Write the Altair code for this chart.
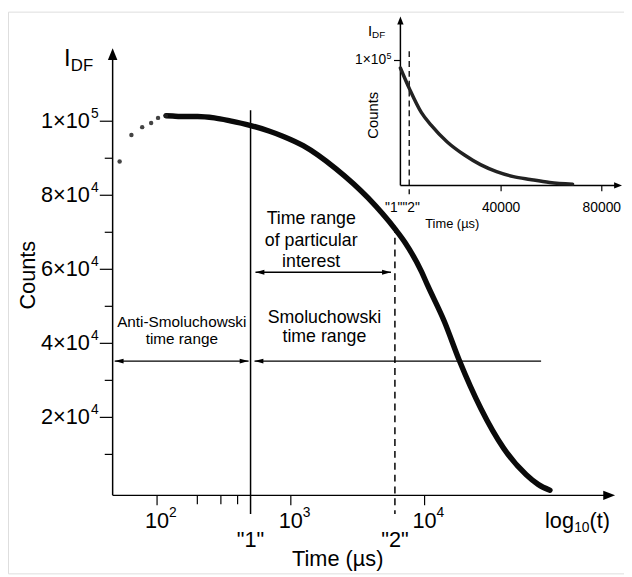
import altair as alt
import pandas as pd

FONT = "Liberation Sans"

# ---------------- data ----------------
sparse_time = [52.5, 64.3, 77.4, 90.3, 101.7, 116.5]
sparse_counts = [89100, 96300, 98400, 99500, 100900, 101500]

curve_time = [116.5, 131, 150, 201, 268, 352, 494, 694, 880, 1237, 2166, 3797,
              6007, 7118, 9502, 10520, 14050, 18130, 26340, 38940, 57540, 70590, 86510]
curve_counts = [101500, 101400, 101300, 101300, 100900, 100100, 98900, 97300, 95900,
                93400, 87200, 79200, 70900, 67300, 59300, 55700, 45900, 35500, 22400,
                11700, 4500, 1900, 300]

inset_time = [0, 3700, 8300, 12200, 18600, 25300, 31800, 38200, 44900, 51500, 59300, 68400]
inset_counts = [94000, 76800, 58300, 48000, 34500, 24200, 16300, 10700, 6700, 4400, 2000, 600]

y_major = [20000, 40000, 60000, 80000, 100000]
y_major_base = ["2×10", "4×10", "6×10", "8×10", "1×10"]
y_major_exp = ["4", "4", "4", "4", "5"]
y_minor = [10000, 30000, 50000, 70000, 90000]

x_major = [100, 1000, 10000]
x_major_base = ["10", "10", "10"]
x_major_exp = ["2", "3", "4"]
x_minor = [200, 300, 400]

t_one = 500
t_two = 6000
axis_left_time = 46.6
smol_end_time = 74300
arrow_interest_counts = 59200
arrow_bottom_counts = 35200

interest_lines = ["Time range", "of particular", "interest"]
interest_counts = [73600, 67733, 61867]
interest_time = [1420, 1420, 1420]
anti_lines = ["Anti-Smoluchowski", "time range"]
anti_counts = [45867, 41067]
anti_time = [153, 153]
smol_lines = ["Smoluchowski", "time range"]
smol_counts = [46933, 41600]
smol_time = [1782, 1782]

inset_marker = 3500
inset_ticks = [40000, 80000]
inset_tick_labels = ["40000", "80000"]
inset_y_tick = [100000]

# ---------------- helpers ----------------
def MX(f):
    return alt.X(f, type="quantitative", axis=None,
                 scale=alt.Scale(type="log", domain=[100, 10000], range=[151, 422]))

def MY(f):
    return alt.Y(f, type="quantitative", axis=None,
                 scale=alt.Scale(domain=[0, 100000], range=[486, 111], zero=False, nice=False))

def IX(f):
    return alt.X(f, type="quantitative", axis=None,
                 scale=alt.Scale(domain=[0, 40000], range=[397.5, 499.5], zero=False, nice=False))

def IY(f):
    return alt.Y(f, type="quantitative", axis=None,
                 scale=alt.Scale(domain=[0, 100000], range=[175.5, 49.5], zero=False, nice=False))

one = pd.DataFrame({"a": [0]})

def base(df=None):
    return alt.Chart(one if df is None else df)

def txt(**kw):
    kw.setdefault("font", FONT)
    kw.setdefault("color", "black")
    return kw

UP = "M0,-1L0.8,1L-0.8,1Z"
RIGHT = "M1,0L-1,-0.8L-1,0.8Z"
LEFT_S = "M-1,0L1,-0.55L1,0.55Z"
RIGHT_S = "M1,0L-1,-0.55L-1,0.55Z"

# ---------------- main chart ----------------
L = []
L.append(base().mark_rule(color="black", strokeWidth=1.5).encode(
    x=alt.value(106), y=alt.value(46), y2=alt.value(490)))
L.append(base().mark_point(shape=UP, filled=True, size=144, color="black", opacity=1).encode(
    x=alt.value(106), y=alt.value(43)))
L.append(base().mark_rule(color="black", strokeWidth=1.5).encode(
    x=alt.value(106), x2=alt.value(606), y=alt.value(490)))
L.append(base().mark_point(shape=RIGHT, filled=True, size=144, color="black", opacity=1).encode(
    x=alt.value(609), y=alt.value(490)))

ymaj = pd.DataFrame({"v": y_major, "b": y_major_base, "e": y_major_exp})
ymin = pd.DataFrame({"v": y_minor})
L.append(base(ymaj).mark_rule(color="black", strokeWidth=1.2).encode(
    x=alt.value(93), x2=alt.value(106), y=MY("v")))
L.append(base(ymin).mark_rule(color="black", strokeWidth=1.2).encode(
    x=alt.value(98), x2=alt.value(106), y=MY("v")))
L.append(base(ymaj).mark_text(**txt(align="right", baseline="middle", fontSize=22)).encode(
    x=alt.value(83), y=MY("v"), text="b:N"))
L.append(base(ymaj).mark_text(**txt(align="left", baseline="middle", fontSize=14, dy=-7)).encode(
    x=alt.value(84), y=MY("v"), text="e:N"))

xmaj = pd.DataFrame({"v": x_major, "b": x_major_base, "e": x_major_exp})
xmin = pd.DataFrame({"v": x_minor})
L.append(base(xmaj).mark_rule(color="black", strokeWidth=1.2).encode(
    x=MX("v"), y=alt.value(490), y2=alt.value(500)))
L.append(base(xmin).mark_rule(color="black", strokeWidth=1.2).encode(
    x=MX("v"), y=alt.value(490), y2=alt.value(499)))
L.append(base(xmaj).mark_text(**txt(align="center", baseline="middle", fontSize=22)).encode(
    x=MX("v"), y=alt.value(516), text="b:N"))
L.append(base(xmaj).mark_text(**txt(align="left", baseline="middle", fontSize=14, dx=12)).encode(
    x=MX("v"), y=alt.value(508), text="e:N"))

marks = pd.DataFrame({"t": [t_one, t_two], "lab": ['"1"', '"2"']})
L.append(base(marks.iloc[[0]]).mark_rule(color="black", strokeWidth=1.5).encode(
    x=MX("t"), y=alt.value(100), y2=alt.value(509)))
L.append(base(marks.iloc[[1]]).mark_rule(color="black", strokeWidth=1.5, strokeDash=[7, 5]).encode(
    x=MX("t"), y=alt.value(217), y2=alt.value(509)))
L.append(base(marks).mark_text(**txt(align="center", baseline="middle", fontSize=22)).encode(
    x=MX("t"), y=alt.value(535.5), text="lab:N"))

L.append(base().mark_text(**txt(align="center", baseline="middle", fontSize=22, angle=270)).encode(
    x=alt.value(20), y=alt.value(267), text=alt.value("Counts")))
L.append(base().mark_text(**txt(align="center", baseline="middle", fontSize=22)).encode(
    x=alt.value(334), y=alt.value(555), text=alt.value("Time (µs)")))
L.append(base().mark_text(**txt(align="left", baseline="middle", fontSize=22)).encode(
    x=alt.value(544), y=alt.value(516.5), text=alt.value("log")))
L.append(base().mark_text(**txt(align="left", baseline="middle", fontSize=14)).encode(
    x=alt.value(573.5), y=alt.value(523), text=alt.value("10")))
L.append(base().mark_text(**txt(align="left", baseline="middle", fontSize=22)).encode(
    x=alt.value(589), y=alt.value(516.5), text=alt.value("(t)")))
L.append(base().mark_text(**txt(align="left", baseline="middle", fontSize=24)).encode(
    x=alt.value(56.7), y=alt.value(48.5), text=alt.value("I")))
L.append(base().mark_text(**txt(align="left", baseline="middle", fontSize=17)).encode(
    x=alt.value(63.6), y=alt.value(55.5), text=alt.value("DF")))

arr_int = pd.DataFrame({"a": [t_one], "b": [t_two], "c": [arrow_interest_counts]})
L.append(base(arr_int).mark_rule(color="black", strokeWidth=1.3, xOffset=5, x2Offset=-4).encode(
    x=MX("a"), x2="b", y=MY("c")))
L.append(base(arr_int).mark_point(shape=LEFT_S, filled=True, size=81, color="black", opacity=1,
                                  xOffset=9.5).encode(x=MX("a"), y=MY("c")))
L.append(base(arr_int).mark_point(shape=RIGHT_S, filled=True, size=81, color="black", opacity=1,
                                  xOffset=-8.5).encode(x=MX("b"), y=MY("c")))

arr_anti = pd.DataFrame({"a": [axis_left_time], "b": [t_one], "c": [arrow_bottom_counts]})
L.append(base(arr_anti).mark_rule(color="black", strokeWidth=1.3, xOffset=2, x2Offset=-2).encode(
    x=MX("a"), x2="b", y=MY("c")))
L.append(base(arr_anti).mark_point(shape=LEFT_S, filled=True, size=81, color="black", opacity=1,
                                   xOffset=6.5).encode(x=MX("a"), y=MY("c")))
L.append(base(arr_anti).mark_point(shape=RIGHT_S, filled=True, size=81, color="black", opacity=1,
                                   xOffset=-6.5).encode(x=MX("b"), y=MY("c")))

arr_smol = pd.DataFrame({"a": [t_one], "b": [smol_end_time], "c": [arrow_bottom_counts]})
L.append(base(arr_smol).mark_rule(color="black", strokeWidth=1.3, xOffset=4).encode(
    x=MX("a"), x2="b", y=MY("c")))
L.append(base(arr_smol).mark_point(shape=LEFT_S, filled=True, size=81, color="black", opacity=1,
                                   xOffset=8.5).encode(x=MX("a"), y=MY("c")))

ann18 = pd.DataFrame({"t": interest_time + smol_time,
                      "c": interest_counts + smol_counts,
                      "s": interest_lines + smol_lines})
ann15 = pd.DataFrame({"t": anti_time, "c": anti_counts, "s": anti_lines})
L.append(base(ann18).mark_text(**txt(align="center", baseline="middle", fontSize=18)).encode(
    x=MX("t"), y=MY("c"), text="s:N"))
L.append(base(ann15).mark_text(**txt(align="center", baseline="middle", fontSize=15.5)).encode(
    x=MX("t"), y=MY("c"), text="s:N"))

sp = pd.DataFrame({"t": sparse_time, "c": sparse_counts})
cv = pd.DataFrame({"t": curve_time, "c": curve_counts})
L.append(base(cv).mark_line(interpolate="monotone", strokeWidth=5.5, color="#0a0a0a",
                            strokeCap="round").encode(x=MX("t"), y=MY("c")))
L.append(base(sp).mark_circle(size=20, color="#222", opacity=0.85).encode(x=MX("t"), y=MY("c")))

main = alt.layer(*L)

# ---------------- inset ----------------
I = []
I.append(base().mark_rule(color="black", strokeWidth=1.5).encode(
    x=alt.value(397.5), y=alt.value(11), y2=alt.value(176)))
I.append(base().mark_point(shape=UP, filled=True, size=64, color="black", opacity=1).encode(
    x=alt.value(397.5), y=alt.value(9)))
I.append(base().mark_rule(color="black", strokeWidth=1.5).encode(
    x=alt.value(397.5), x2=alt.value(616), y=alt.value(176)))
I.append(base().mark_point(shape=RIGHT, filled=True, size=64, color="black", opacity=1).encode(
    x=alt.value(618), y=alt.value(176)))

iyt = pd.DataFrame({"v": inset_y_tick, "b": ["1×10"], "e": ["5"]})
I.append(base(iyt).mark_rule(color="black", strokeWidth=1.2).encode(
    x=alt.value(391), x2=alt.value(397.5), y=IY("v")))
I.append(base(iyt).mark_text(**txt(align="right", baseline="middle", fontSize=14)).encode(
    x=alt.value(383), y=IY("v"), text="b:N"))
I.append(base(iyt).mark_text(**txt(align="left", baseline="middle", fontSize=9, dy=-5)).encode(
    x=alt.value(383.5), y=IY("v"), text="e:N"))

ixt = pd.DataFrame({"v": inset_ticks, "s": inset_tick_labels})
I.append(base(ixt).mark_rule(color="black", strokeWidth=1.2).encode(
    x=IX("v"), y=alt.value(176), y2=alt.value(182)))
I.append(base(ixt).mark_text(**txt(align="center", baseline="middle", fontSize=14)).encode(
    x=IX("v"), y=alt.value(199), text="s:N"))

imk = pd.DataFrame({"t": [inset_marker]})
I.append(base(imk).mark_rule(color="black", strokeWidth=1.3, strokeDash=[6, 4]).encode(
    x=IX("t"), y=alt.value(40), y2=alt.value(185)))
ilab = pd.DataFrame({"t": [t_one, inset_marker], "s": ['"1"', '"2"']})
I.append(base(ilab.iloc[[0]]).mark_text(**txt(align="center", baseline="middle", fontSize=14, dx=-8)).encode(
    x=IX("t"), y=alt.value(199), text="s:N"))
I.append(base(ilab.iloc[[1]]).mark_text(**txt(align="center", baseline="middle", fontSize=14, dx=2)).encode(
    x=IX("t"), y=alt.value(199), text="s:N"))

I.append(base().mark_text(**txt(align="center", baseline="middle", fontSize=15, angle=270)).encode(
    x=alt.value(370), y=alt.value(105), text=alt.value("Counts")))
I.append(base().mark_text(**txt(align="center", baseline="middle", fontSize=13)).encode(
    x=alt.value(450), y=alt.value(215), text=alt.value("Time (µs)")))
I.append(base().mark_text(**txt(align="left", baseline="middle", fontSize=15)).encode(
    x=alt.value(364.6), y=alt.value(20), text=alt.value("I")))
I.append(base().mark_text(**txt(align="left", baseline="middle", fontSize=10)).encode(
    x=alt.value(368.8), y=alt.value(23.5), text=alt.value("DF")))

icv = pd.DataFrame({"t": inset_time, "c": inset_counts})
I.append(base(icv).mark_line(interpolate="monotone", strokeWidth=3.5, color="#222",
                             strokeCap="round").encode(x=IX("t"), y=IY("c")))

inset = alt.layer(*I)

chart = alt.layer(main, inset).resolve_scale(x="independent", y="independent").properties(
    width=624, height=569, autosize="none", padding=0
).configure_view(stroke=None).configure(background="white")

chart.save("out.html", embed_options={"renderer": "svg", "actions": False})
